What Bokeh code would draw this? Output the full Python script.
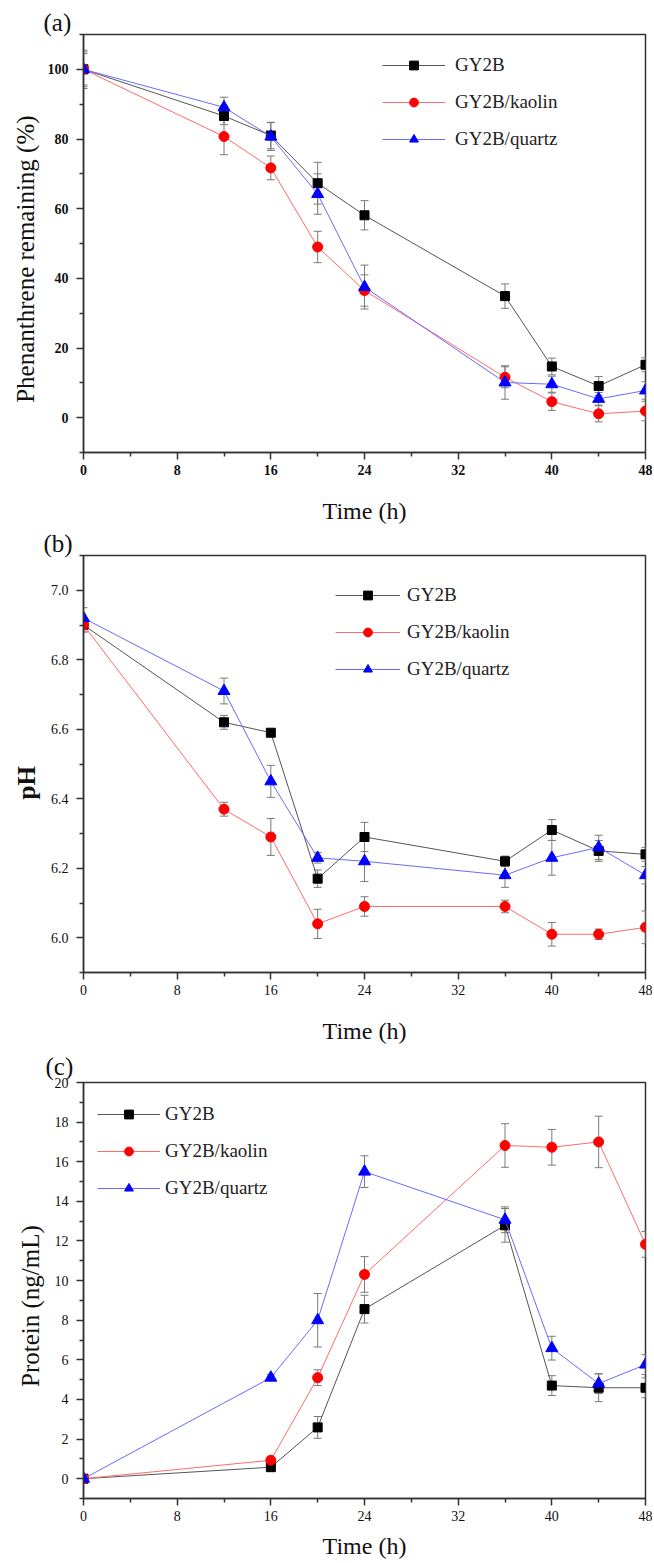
from bokeh.plotting import figure
from bokeh.layouts import column
from bokeh.models import (ColumnDataSource, Whisker, TeeHead, FixedTicker, Legend,
                          LegendItem, Range1d, PrintfTickFormatter)
from bokeh.embed import file_html
from bokeh.resources import INLINE

# ---------------- data ----------------
series_names = ["GY2B", "GY2B/kaolin", "GY2B/quartz"]

time_a = [0, 12, 16, 20, 24, 36, 40, 44, 48]
phen_gy2b = [100, 86.6, 81.0, 67.3, 58.1, 34.9, 14.7, 9.1, 15.2]
phen_gy2b_err = [5.0, 2.5, 3.8, 6.0, 4.2, 3.5, 2.4, 2.7, 2.0]
phen_kaolin = [100, 80.7, 71.7, 49.0, 36.5, 11.6, 4.6, 1.1, 1.9]
phen_kaolin_err = [4.5, 5.2, 3.4, 4.5, 4.5, 3.0, 2.5, 2.3, 2.8]
phen_quartz = [100, 89.1, 80.7, 64.2, 37.5, 10.1, 9.6, 5.4, 7.8]
phen_quartz_err = [5.5, 2.9, 4.0, 5.8, 6.3, 4.8, 2.3, 1.8, 2.5]

time_b = [0, 12, 16, 20, 24, 36, 40, 44, 48]
ph_gy2b = [6.90, 6.62, 6.59, 6.17, 6.29, 6.22, 6.31, 6.25, 6.24]
ph_gy2b_err = [0.02, 0.02, 0.005, 0.025, 0.042, 0.015, 0.03, 0.03, 0.02]
ph_kaolin = [6.90, 6.37, 6.29, 6.04, 6.09, 6.09, 6.01, 6.01, 6.03]
ph_kaolin_err = [0.02, 0.02, 0.053, 0.042, 0.028, 0.018, 0.034, 0.015, 0.047]
ph_quartz = [6.92, 6.71, 6.45, 6.23, 6.22, 6.18, 6.23, 6.26, 6.18]
ph_quartz_err = [0.03, 0.037, 0.046, 0.015, 0.058, 0.035, 0.05, 0.035, 0.025]

time_c = [0, 16, 20, 24, 36, 40, 44, 48]
prot_gy2b = [0, 0.58, 2.59, 8.56, 12.79, 4.70, 4.59, 4.59]
prot_gy2b_err = [0.05, 0.1, 0.55, 0.7, 0.85, 0.5, 0.7, 0.5]
prot_kaolin = [0, 0.93, 5.10, 10.31, 16.82, 16.73, 17.0, 11.83]
prot_kaolin_err = [0.05, 0.1, 0.4, 0.9, 1.1, 0.9, 1.3, 0.65]
prot_quartz = [0, 5.1, 8.0, 15.5, 13.07, 6.59, 4.8, 5.76]
prot_quartz_err = [0.05, 0.15, 1.35, 0.8, 0.65, 0.6, 0.5, 0.5]

x_major = [0, 8, 16, 24, 32, 40, 48]
x_minor = [4, 12, 20, 28, 36, 44]
ya_major = [0, 20, 40, 60, 80, 100]
ya_minor = [-10, 10, 30, 50, 70, 90, 110]
yb_major = [6.0, 6.2, 6.4, 6.6, 6.8, 7.0]
yb_minor = [5.9, 6.1, 6.3, 6.5, 6.7, 6.9, 7.1]
yc_major = [0, 2, 4, 6, 8, 10, 12, 14, 16, 18, 20]
yc_minor = [-1, 1, 3, 5, 7, 9, 11, 13, 15, 17, 19]

# ---------------- styling ----------------
FONT = "Liberation Serif"
AXC = "#333333"
STYLES = [
    ("square", "black", "#555555", 9),
    ("circle", "red", "#ff6a6a", 10),
    ("triangle", "blue", "#6a6aff", 12),
]
ERRC = "#7a7a7a"
NB = "\u00a0"  # trailing no-break spaces nudge the vertical titles downward


def make_panel(x, ys, errs, yr, ymaj, ymin, ylabel, tag, tag_off, tag_std, height, top, bottom,
               leg_loc, leg_gw, leg_std, tick_bold, label_bold, fmt, xstd, ystd, nudge):
    p = figure(width=652, height=height, x_range=Range1d(0, 48), y_range=Range1d(*yr),
               output_backend="svg", toolbar_location=None,
               min_border_left=83, min_border_right=7,
               min_border_top=top, min_border_bottom=bottom,
               title=tag)
    p.title.align = "left"
    p.title.offset = tag_off
    p.title.standoff = tag_std
    p.title.text_font = FONT
    p.title.text_font_size = "25px"
    p.title.text_font_style = "normal"
    p.title.text_color = "#111111"

    p.xgrid.visible = False
    p.ygrid.visible = False
    p.outline_line_color = AXC
    p.outline_line_width = 1.5
    p.outline_line_alpha = 1.0

    items = []
    for name, (marker, mc, lc, sz), y, e in zip(series_names, STYLES, ys, errs):
        src = ColumnDataSource(dict(x=x, y=y,
                                    upper=[a + b for a, b in zip(y, e)],
                                    lower=[a - b for a, b in zip(y, e)]))
        w = Whisker(source=src, base="x", upper="upper", lower="lower",
                    line_color=ERRC, line_width=1, level="underlay",
                    upper_head=TeeHead(size=8, line_color=ERRC, line_width=1),
                    lower_head=TeeHead(size=8, line_color=ERRC, line_width=1))
        p.add_layout(w)
        ln = p.line("x", "y", source=src, line_color=lc, line_width=1)
        sc = p.scatter("x", "y", source=src, marker=marker, size=sz,
                       fill_color=mc, line_color=mc)
        items.append(LegendItem(label=name, renderers=[ln, sc]))

    leg = Legend(items=items, location=leg_loc, glyph_width=leg_gw, glyph_height=22,
                 label_height=22, label_standoff=leg_std, spacing=15, padding=0, margin=0,
                 border_line_color=None, background_fill_alpha=0,
                 label_text_font=FONT, label_text_font_size="19px",
                 label_text_color="#222222")
    p.add_layout(leg)

    p.xaxis.ticker = FixedTicker(ticks=x_major, minor_ticks=x_minor)
    p.yaxis.ticker = FixedTicker(ticks=ymaj, minor_ticks=ymin)
    if fmt:
        p.yaxis.formatter = PrintfTickFormatter(format=fmt)

    for ax in (p.xaxis[0], p.yaxis[0]):
        ax.axis_line_color = AXC
        ax.axis_line_width = 1.5
        ax.major_tick_line_color = AXC
        ax.major_tick_line_width = 1.5
        ax.minor_tick_line_color = AXC
        ax.minor_tick_line_width = 1.5
        ax.major_tick_in = 0
        ax.major_tick_out = 7
        ax.minor_tick_in = 0
        ax.minor_tick_out = 4
        ax.major_label_text_font = FONT
        ax.major_label_text_font_size = "14px"
        ax.major_label_text_color = "#111111"
        ax.major_label_text_font_style = "bold" if tick_bold else "normal"
        ax.major_label_standoff = 5
        ax.axis_label_text_font = FONT
        ax.axis_label_text_color = "#111111"

    p.xaxis.axis_label = "Time (h)"
    p.xaxis.axis_label_text_font_size = "24px"
    p.xaxis.axis_label_text_font_style = "normal"
    p.xaxis.axis_label_standoff = xstd
    p.yaxis.axis_label = ylabel + NB * nudge
    p.yaxis.axis_label_text_font_size = "25px"
    p.yaxis.axis_label_text_font_style = "bold" if label_bold else "normal"
    p.yaxis.axis_label_standoff = ystd
    p.yaxis.major_label_standoff = 8
    return p


pa = make_panel(time_a, [phen_gy2b, phen_kaolin, phen_quartz],
                [phen_gy2b_err, phen_kaolin_err, phen_quartz_err],
                (-10, 110), ya_major, ya_minor, "Phenanthrene remaining (%)",
                "(a)", -40, -3, 528, 34, 76, (299, 302), 63, 10, True, False, None, 20, 6, 5)

pb = make_panel(time_b, [ph_gy2b, ph_kaolin, ph_quartz],
                [ph_gy2b_err, ph_kaolin_err, ph_quartz_err],
                (5.9, 7.1), yb_major, yb_minor, "pH",
                "(b)", -40, -3, 520, 27, 76, (252, 292), 65, 7, False, True, "%.1f", 20, 8, 6)

pc = make_panel(time_c, [prot_gy2b, prot_kaolin, prot_quartz],
                [prot_gy2b_err, prot_kaolin_err, prot_quartz_err],
                (-1, 20), yc_major, yc_minor, "Protein (ng/mL)",
                "(c)", -38, 5, 515, 33, 65, (14, 299), 63, 5, False, False, None, 9, 8, 5)

layout = column(pa, pb, pc, spacing=0)

open("out.html", "w").write(file_html(layout, INLINE))
